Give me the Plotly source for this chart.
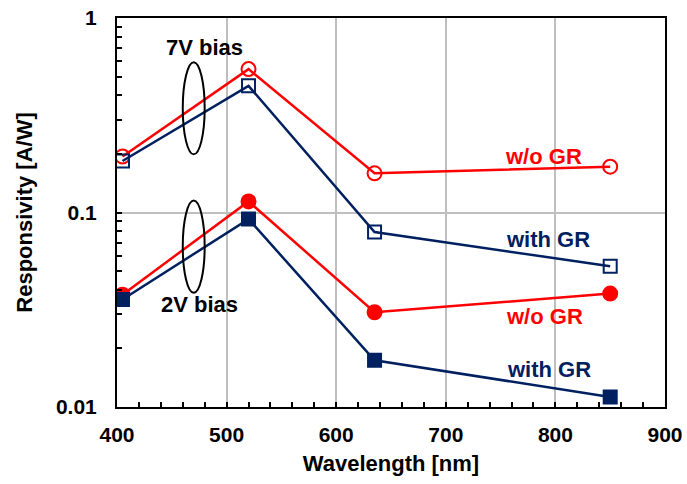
import math
import plotly.graph_objects as go

# Wavelengths of the measurement points [nm]
wavelength = [405, 520, 635, 850]

# Responsivity [A/W]
bias7_wo_gr = [0.194, 0.546, 0.159, 0.172]
bias7_with_gr = [0.184, 0.448, 0.0794, 0.0529]
bias2_wo_gr = [0.0378, 0.114, 0.0307, 0.0383]
bias2_with_gr = [0.0357, 0.0925, 0.0174, 0.01125]

y_tick_vals = [0.01, 0.1, 1]
y_tick_text = ["0.01", "0.1", "1"]

RED = "#FF0000"
NAVY = "#002060"
FONT = "Liberation Sans, Arial, sans-serif"
FS_TICK = 21
FS_TEXT = 22

fig = go.Figure()


def add_series(y, color, symbol, size):
    fig.add_trace(go.Scatter(
        x=wavelength, y=y, mode="lines+markers",
        line=dict(color=color, width=2.5),
        marker=dict(symbol=symbol, size=size, color=color,
                    line=dict(color=color, width=2)),
        showlegend=False,
    ))


add_series(bias7_wo_gr, RED, "circle-open", 14)
add_series(bias7_with_gr, NAVY, "square-open", 13)
add_series(bias2_wo_gr, RED, "circle", 14)
add_series(bias2_with_gr, NAVY, "square", 13)

# Ellipses grouping the curves of each bias condition
fig.add_shape(type="circle", xref="x", yref="y", x0=460, x1=480, y0=0.199, y1=0.593,
              line=dict(color="black", width=2))
fig.add_shape(type="circle", xref="x", yref="y", x0=460, x1=480, y0=0.0387, y1=0.1154,
              line=dict(color="black", width=2))

txt = dict(family=FONT, size=FS_TEXT, weight="bold")
labels = [
    (480, 0.707, "7V bias", "black"),
    (475, 0.0336, "2V bias", "black"),
    (789, 0.193, "w/o GR", RED),
    (793, 0.0723, "with GR", NAVY),
    (790, 0.0292, "w/o GR", RED),
    (794, 0.0156, "with GR", NAVY),
]
for x, y, t, c in labels:
    fig.add_annotation(x=x, y=math.log10(y), xref="x", yref="y", text=t,
                       showarrow=False, font=dict(txt, color=c))

fig.update_layout(
    width=687, height=484,
    margin=dict(l=117, r=22, t=18, b=77),
    paper_bgcolor="white", plot_bgcolor="white",
    font=dict(family=FONT, size=FS_TICK, color="black", weight="bold"),
)
fig.update_xaxes(
    range=[400, 900], dtick=100, tick0=400, automargin=False,
    showgrid=True, gridcolor="#BFBFBF", gridwidth=1.5,
    showline=True, linecolor="black", linewidth=2, mirror=True,
    ticks="inside", ticklen=5, tickcolor="black", tickwidth=1.5,
    minor=dict(dtick=20, ticks="inside", ticklen=5, tickcolor="black", showgrid=False),
    tickfont=dict(family=FONT, size=FS_TICK, weight="bold"),
    ticklabelstandoff=8,
    title=dict(text="Wavelength [nm]", font=dict(family=FONT, size=FS_TEXT, weight="bold"), standoff=10),
    zeroline=False,
)
fig.update_yaxes(
    type="log", range=[-2, 0], automargin=False,
    tickvals=y_tick_vals, ticktext=y_tick_text,
    showgrid=True, gridcolor="#BFBFBF", gridwidth=1.5,
    showline=True, linecolor="black", linewidth=2, mirror=True,
    ticks="inside", ticklen=5, tickcolor="black", tickwidth=1.5,
    minor=dict(dtick="D1", ticks="inside", ticklen=5, tickcolor="black", showgrid=False),
    tickfont=dict(family=FONT, size=FS_TICK, weight="bold"),
    ticklabelstandoff=14,
    title=dict(text="Responsivity [A/W]", font=dict(family=FONT, size=FS_TEXT, weight="bold"), standoff=17),
    zeroline=False,
)

fig.write_html("out.html")
